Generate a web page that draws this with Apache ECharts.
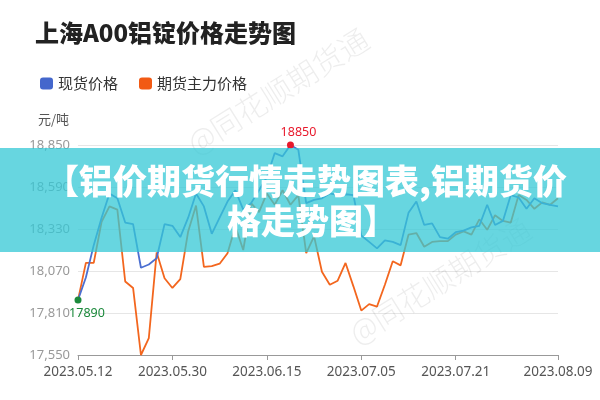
<!DOCTYPE html>
<html>
<head>
<meta charset="utf-8">
<script src="https://cdn.jsdelivr.net/npm/echarts@6/dist/echarts.min.js"></script>
<style>
html,body{margin:0;padding:0;background:#fff;}
#main{width:600px;height:400px;}
</style>
</head>
<body>
<div id="main"></div>
<script>
var titleText = '上海A00铝锭价格走势图';
var seriesNames = ['现货价格', '期货主力价格'];
var unitText = '元/吨';
var bannerLines = ['【铝价期货行情走势图表,铝期货价', '格走势图】'];
var watermarkText = '@同花顺期货通';

var dates = [
  '2023.05.12','2023.05.15','2023.05.16','2023.05.17','2023.05.18','2023.05.19','2023.05.22','2023.05.23','2023.05.24','2023.05.25','2023.05.26','2023.05.29','2023.05.30','2023.05.31',
  '2023.06.01','2023.06.02','2023.06.05','2023.06.06','2023.06.07','2023.06.08','2023.06.09','2023.06.12','2023.06.13','2023.06.14','2023.06.15','2023.06.16','2023.06.19','2023.06.20','2023.06.21','2023.06.26','2023.06.27','2023.06.28','2023.06.29','2023.06.30',
  '2023.07.03','2023.07.04','2023.07.05','2023.07.06','2023.07.07','2023.07.10','2023.07.11','2023.07.12','2023.07.13','2023.07.14','2023.07.17','2023.07.18','2023.07.19','2023.07.20','2023.07.21','2023.07.24','2023.07.25','2023.07.26','2023.07.27','2023.07.28','2023.07.31',
  '2023.08.01','2023.08.02','2023.08.03','2023.08.04','2023.08.07','2023.08.08','2023.08.09'
];
var tickLabels = ['2023.05.12','2023.05.30','2023.06.15','2023.07.05','2023.07.21','2023.08.09'];

var spotPrice = [
  17890,18030,18230,18400,18550,18520,18370,18360,18090,18110,18150,18360,18350,18280,
  18400,18550,18470,18300,18400,18500,18570,18450,18490,18570,18650,18800,18780,18850,18820,18490,18510,18520,18550,18540,
  18545,18540,18290,18250,18210,18260,18250,18230,18430,18500,18355,18365,18280,18270,18310,18320,18340,18350,18480,18355,18380,
  18540,18525,18455,18520,18490,18480,18470
];
var futuresPrice = [
  17890,18120,18120,18375,18470,18450,18005,17965,17550,17655,18185,18025,17965,18020,
  18315,18475,18095,18100,18115,18180,18345,18200,18490,18435,18550,18480,18570,18480,18540,18180,18285,18065,17985,18010,
  18120,17975,17825,17865,17850,17985,18130,18105,18295,18305,18220,18250,18255,18255,18295,18315,18295,18390,18325,18415,18380,
  18370,18540,18510,18455,18495,18480,18520
];

var yMin = 17550, yMax = 18850, yStep = 260;

var chart = echarts.init(document.getElementById('main'), null, {renderer: 'canvas'});

function showTick(idx, val) {
  return tickLabels.indexOf(dates[idx]) !== -1;
}
function fmt(v) {
  return String(v).replace(/\B(?=(\d{3})+(?!\d))/g, ',');
}

var option = {
  backgroundColor: '#ffffff',
  animation: false,
  textStyle: {fontFamily: '"Noto Sans", "Noto Sans CJK SC", sans-serif'},
  title: {
    text: titleText,
    left: 30,
    top: 16,
    textStyle: {fontSize: 24, fontWeight: 900, color: '#222', fontFamily: '"Noto Sans CJK SC", sans-serif'}
  },
  legend: {
    left: 35,
    top: 71,
    itemWidth: 13,
    itemHeight: 12,
    itemGap: 21,
    icon: 'roundRect',
    textStyle: {fontSize: 15, color: '#333', fontFamily: '"Noto Sans CJK SC", sans-serif'},
    data: seriesNames
  },
  grid: {left: 78, right: 42, top: 145, bottom: 45, containLabel: false},
  xAxis: {
    type: 'category',
    data: dates,
    boundaryGap: false,
    axisLine: {show: true, lineStyle: {color: '#999', width: 1}},
    axisTick: {show: true, interval: showTick, length: 5, lineStyle: {color: '#999'}},
    axisLabel: {interval: showTick, color: '#555', fontSize: 13.5, margin: 10},
    splitLine: {show: false}
  },
  yAxis: {
    type: 'value',
    min: yMin,
    max: yMax,
    interval: yStep,
    axisLine: {show: false},
    axisTick: {show: false},
    axisLabel: {color: '#999', fontSize: 13, margin: 8, formatter: function (v) { return fmt(v); }},
    splitLine: {show: true, lineStyle: {color: '#e6e6e6', width: 1}}
  },
  series: [
    {
      name: seriesNames[0],
      type: 'line',
      data: spotPrice,
      showSymbol: false,
      symbol: 'none',
      lineStyle: {color: '#4b6fd1', width: 1.8},
      itemStyle: {color: '#4467cc'},
      z: 3,
      markPoint: {
        symbol: 'circle',
        symbolSize: 7,
        data: [
          {type: 'max', itemStyle: {color: '#e8192c'}, label: {show: true, position: 'top', distance: 3, offset: [8, 0], color: '#e8192c', fontSize: 12.5, formatter: '{c}'}},
          {type: 'min', itemStyle: {color: '#1c8a3c'}, label: {show: true, position: 'bottom', distance: 4, offset: [9, 0], color: '#1c8a3c', fontSize: 12.5, formatter: '{c}'}}
        ]
      }
    },
    {
      name: seriesNames[1],
      type: 'line',
      data: futuresPrice,
      showSymbol: false,
      symbol: 'none',
      lineStyle: {color: '#f3661e', width: 1.8},
      itemStyle: {color: '#f25a14'},
      z: 2
    }
  ],
  graphic: [
    {type: 'text', left: 38, top: 113, z: 10, style: {text: unitText, fontSize: 13, fill: '#555', fontFamily: '"Noto Sans CJK SC", sans-serif'}},
    {type: 'text', x: 190, y: 146, rotation: 32 * Math.PI / 180, z: 50, silent: true,
      style: {text: watermarkText, fontSize: 30, fill: 'rgba(0,0,0,0.07)', textVerticalAlign: 'middle', fontFamily: '"Noto Sans CJK SC", sans-serif', fontWeight: 300}},
    {type: 'text', x: 352, y: 336, rotation: 32 * Math.PI / 180, z: 50, silent: true,
      style: {text: watermarkText, fontSize: 30, fill: 'rgba(0,0,0,0.07)', textVerticalAlign: 'middle', fontFamily: '"Noto Sans CJK SC", sans-serif', fontWeight: 300}},
    {type: 'rect', shape: {x: 0, y: 148, width: 600, height: 104}, z: 100, silent: true,
      style: {fill: 'rgba(52,200,214,0.75)'}},
    {type: 'text', x: 306, y: 181, z: 101, silent: true,
      style: {text: bannerLines[0], fontSize: 34, fontWeight: 900, fill: '#ffffff', textAlign: 'center', textVerticalAlign: 'middle', fontFamily: '"Noto Sans CJK SC", sans-serif'}},
    {type: 'text', x: 312, y: 221, z: 101, silent: true,
      style: {text: bannerLines[1], fontSize: 34, fontWeight: 900, fill: '#ffffff', textAlign: 'center', textVerticalAlign: 'middle', fontFamily: '"Noto Sans CJK SC", sans-serif'}}
  ]
};
chart.setOption(option);
</script>
</body>
</html>
